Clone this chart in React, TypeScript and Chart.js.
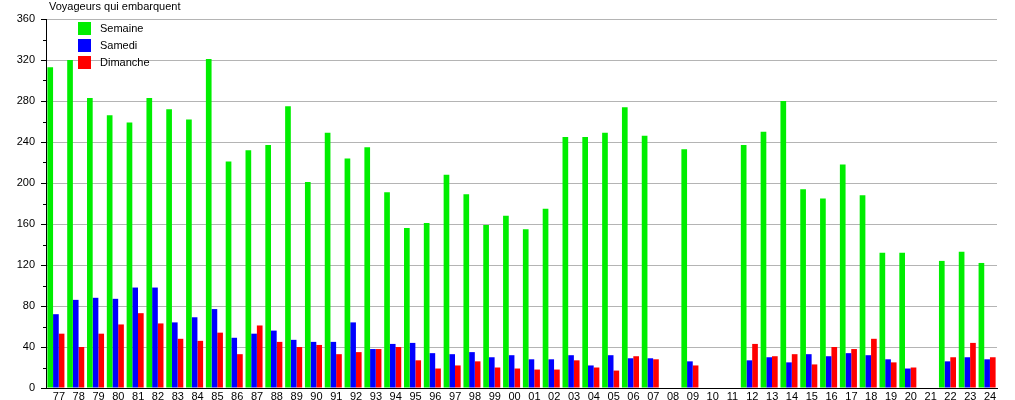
import React, { useEffect, useRef } from "react";
import { Chart, registerables } from "chart.js";

Chart.register(...registerables);

const categories = [
  "77","78","79","80","81","82","83","84","85","86","87","88","89","90","91","92","93","94","95","96","97","98","99",
  "00","01","02","03","04","05","06","07","08","09","10","11","12","13","14","15","16","17","18","19","20","21","22","23","24",
];

const semaine = [
  313, 320, 283, 266, 259, 283, 272, 262, 321, 221, 232, 237, 275, 201, 249, 224, 235, 191, 156, 161, 208, 189, 159,
  168, 155, 175, 245, 245, 249, 274, 246, null, 233, null, null, 237, 250, 280, 194, 185, 218, 188, 132, 132, null, 124, 133, 122,
];

const samedi = [
  72, 86, 88, 87, 98, 98, 64, 69, 77, 49, 53, 56, 47, 45, 45, 64, 38, 43, 44, 34, 33, 35, 30,
  32, 28, 28, 32, 22, 32, 29, 29, null, 26, null, null, 27, 30, 25, 33, 31, 34, 32, 28, 19, null, 26, 30, 28,
];

const dimanche = [
  53, 40, 53, 62, 73, 63, 48, 46, 54, 33, 61, 45, 40, 42, 33, 35, 38, 40, 27, 19, 22, 26, 20,
  19, 18, 18, 27, 20, 17, 31, 28, null, 22, null, null, 43, 31, 33, 23, 40, 38, 48, 25, 20, null, 30, 44, 30,
];

const seriesNames = ["Semaine", "Samedi", "Dimanche"];
const seriesColors = ["#00ee00", "#0000ff", "#ff0000"];
const titleText = "Voyageurs qui embarquent";
const yMax = 360;
const yMajorStep = 40;
const yMinorStep = 20;

const FONT = "'Liberation Sans', Arial, sans-serif";

const overlayPlugin = {
  id: "overlay",
  afterDraw(chart: any) {
    const ctx = chart.ctx;
    const y = chart.scales.y;
    ctx.save();
    ctx.strokeStyle = "#000";
    ctx.lineWidth = 1;
    for (let v = 0; v <= yMax; v += yMinorStep) {
      const py = Math.round(y.getPixelForValue(v)) + 0.5;
      const len = v % yMajorStep === 0 ? 5 : 3;
      ctx.beginPath();
      ctx.moveTo(y.right - len, py);
      ctx.lineTo(y.right, py);
      ctx.stroke();
    }
    ctx.fillStyle = "#000";
    ctx.font = "11px " + FONT;
    ctx.textBaseline = "alphabetic";
    ctx.textAlign = "left";
    ctx.fillText(titleText, 49, 10);
    const lx = 78;
    const ly = [22, 39, 56];
    for (let i = 0; i < seriesNames.length; i++) {
      ctx.fillStyle = seriesColors[i];
      ctx.fillRect(lx, ly[i], 13, 13);
      ctx.fillStyle = "#000";
      ctx.textBaseline = "middle";
      ctx.fillText(seriesNames[i], 100, ly[i] + 7);
    }
    ctx.restore();
  },
};

export default function App() {
  const ref = useRef<HTMLCanvasElement | null>(null);

  useEffect(() => {
    if (!ref.current) return;
    const datasets = [semaine, samedi, dimanche].map((d, i) => ({
      label: seriesNames[i],
      data: d,
      backgroundColor: seriesColors[i],
      borderWidth: 0,
      categoryPercentage: 0.86,
      barPercentage: 1.0,
    }));
    const chart = new Chart(ref.current, {
      type: "bar",
      data: { labels: categories, datasets },
      options: {
        animation: false,
        responsive: false,
        maintainAspectRatio: false,
        layout: { padding: { top: 19, right: 18, left: 0, bottom: 0 } },
        plugins: {
          legend: { display: false },
          title: { display: false },
          tooltip: { enabled: false },
        },
        scales: {
          x: {
            grid: { display: false, drawTicks: false },
            border: { display: true, color: "#000", width: 1 },
            ticks: {
              color: "#000",
              font: { family: FONT, size: 11 },
              padding: 2,
              labelOffset: 3,
              maxRotation: 0,
              autoSkip: false,
            },
            afterFit: (s: any) => {
              s.height = 12;
            },
          },
          y: {
            min: 0,
            max: yMax,
            grid: {
              drawTicks: true,
              tickLength: 9,
              tickColor: "rgba(0,0,0,0)",
              color: (c: any) =>
                c.tick && c.tick.value % yMajorStep === 0 ? "#b4b4b4" : "rgba(0,0,0,0)",
            },
            border: { display: true, color: "#000", width: 1 },
            ticks: {
              stepSize: yMinorStep,
              color: "#000",
              font: { family: FONT, size: 11 },
              padding: 2,
              autoSkip: false,
              callback: (v: any) => (Number(v) % yMajorStep === 0 ? String(v) : ""),
            },
            afterFit: (s: any) => {
              s.width = 46;
            },
          },
        },
      },
      plugins: [overlayPlugin],
    });
    return () => chart.destroy();
  }, []);

  return (
    <div style={{ position: "fixed", left: 0, top: 0, width: 1015, height: 400, background: "#fff" }}>
      <canvas ref={ref} width={1015} height={400} style={{ width: 1015, height: 400 }} />
    </div>
  );
}
